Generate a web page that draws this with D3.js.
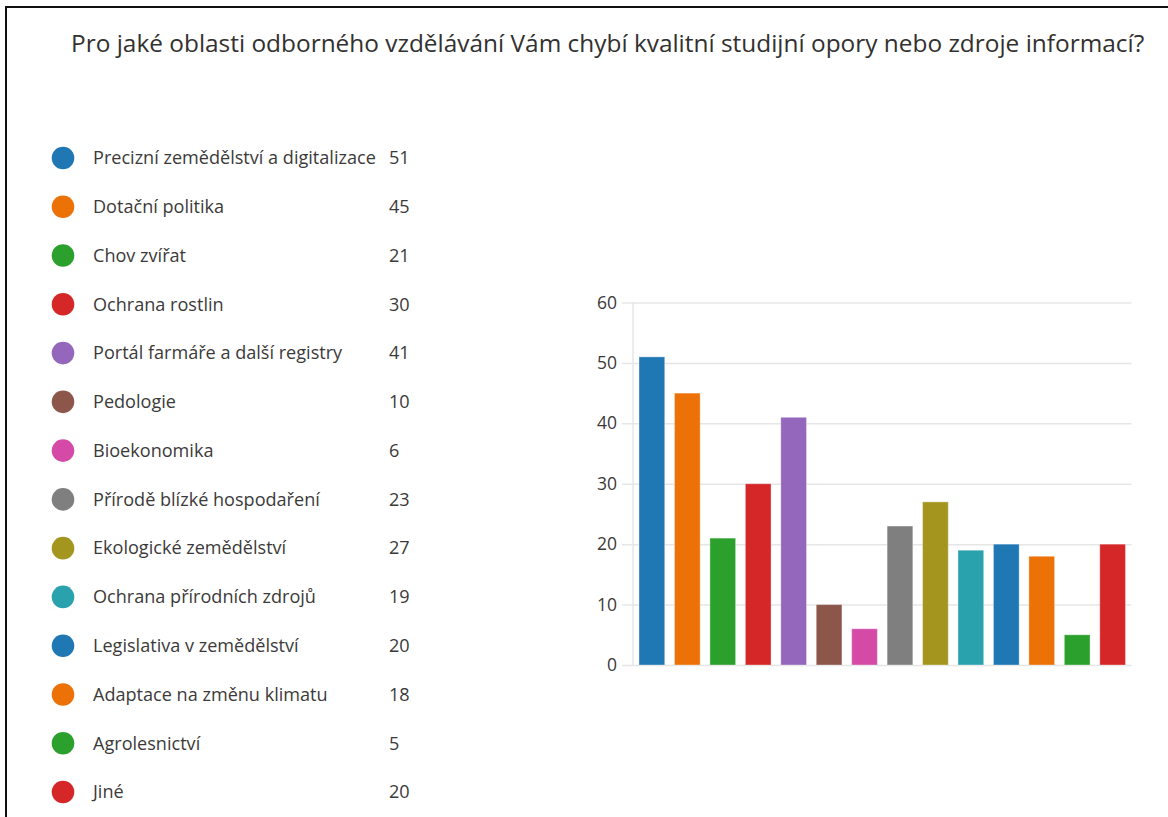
<!DOCTYPE html>
<html>
<head>
<meta charset="utf-8">
<script src="https://cdn.jsdelivr.net/npm/d3@7"></script>
<style>
  html, body { margin: 0; padding: 0; background: #fff; }
  svg { display: block; font-family: "Open Sans", "Noto Sans", sans-serif; }
</style>
</head>
<body>
<svg id="chart" width="1168" height="817"></svg>
<script>
// Survey answers: which areas of professional education lack good study materials
const categories = [
  "Precizní zemědělství a digitalizace",
  "Dotační politika",
  "Chov zvířat",
  "Ochrana rostlin",
  "Portál farmáře a další registry",
  "Pedologie",
  "Bioekonomika",
  "Přírodě blízké hospodaření",
  "Ekologické zemědělství",
  "Ochrana přírodních zdrojů",
  "Legislativa v zemědělství",
  "Adaptace na změnu klimatu",
  "Agrolesnictví",
  "Jiné"
];
const counts = [51, 45, 21, 30, 41, 10, 6, 23, 27, 19, 20, 18, 5, 20];
const palette = [
  "#1f77b4", "#ec7207", "#2ca02c", "#d62728", "#9467bd", "#8c564b",
  "#d54aa7", "#7f7f7f", "#a4951e", "#29a2ad", "#1f77b4", "#ec7207",
  "#2ca02c", "#d62728"
];
const yTicks = [0, 10, 20, 30, 40, 50, 60];
const title = "Pro jaké oblasti odborného vzdělávání Vám chybí kvalitní studijní opory nebo zdroje informací?";

const svg = d3.select("#chart");

// frame lines along the top and left edge
svg.append("line").attr("x1", 6).attr("x2", 1168).attr("y1", 7).attr("y2", 7)
  .attr("stroke", "#111").attr("stroke-width", 2);
svg.append("line").attr("x1", 6).attr("x2", 6).attr("y1", 6).attr("y2", 817)
  .attr("stroke", "#111").attr("stroke-width", 2);

// title, fitted to its line width
const titleText = svg.append("text")
  .attr("x", 71).attr("y", 52)
  .attr("fill", "#323130")
  .attr("font-size", 20)
  .text(title);
const tw = titleText.node().getComputedTextLength();
titleText.attr("font-size", 20 * 1074 / tw);

// legend
const legendY = d3.scalePoint().domain(categories).range([158, 792]);
const legend = svg.append("g").selectAll("g")
  .data(categories)
  .join("g")
  .attr("transform", d => `translate(0,${legendY(d)})`);
legend.append("circle")
  .attr("cx", 63).attr("cy", 0).attr("r", 11.3)
  .attr("fill", (d, i) => palette[i]);
const labels = legend.append("text")
  .attr("x", 93).attr("dy", "0.35em")
  .attr("fill", "#3b3a39")
  .attr("font-size", 16)
  .text(d => d);
// scale label font so the longest label spans its measured width
const longest = d3.max(labels.nodes(), n => n.getComputedTextLength());
labels.attr("font-size", 16 * 283 / longest);
legend.append("text")
  .attr("x", 389).attr("dy", "0.35em")
  .attr("fill", "#3b3a39")
  .attr("font-size", 16 * 283 / longest)
  .text((d, i) => counts[i]);

// bar chart
const x = d3.scaleBand().domain(categories).range([633, 1131.5])
  .paddingInner(0.275).paddingOuter(0.17);
const y = d3.scaleLinear().domain([0, 60]).range([665, 302.5]);

const yAxis = svg.append("g")
  .attr("transform", "translate(622,0)")
  .call(d3.axisLeft(y).tickValues(yTicks).tickSize(-(1131.5 - 622)).tickPadding(5));
yAxis.select(".domain").remove();
yAxis.selectAll(".tick line").attr("stroke", "#e6e6e6").attr("stroke-width", 1.5);
yAxis.selectAll(".tick text")
  .attr("fill", "#3b3a39")
  .attr("font-size", 17.5)
  .attr("font-family", "\"Open Sans\", sans-serif");

// vertical axis line
svg.append("line")
  .attr("x1", 633).attr("x2", 633)
  .attr("y1", y(60)).attr("y2", y(0))
  .attr("stroke", "#e6e6e6").attr("stroke-width", 1.5);

svg.append("g").selectAll("rect")
  .data(counts)
  .join("rect")
  .attr("x", (d, i) => x(categories[i]))
  .attr("width", x.bandwidth())
  .attr("y", d => y(d))
  .attr("height", d => y(0) - y(d))
  .attr("fill", (d, i) => palette[i])
  .attr("stroke", "#ffffff")
  .attr("stroke-opacity", 0.35)
  .attr("stroke-width", 1);
</script>
</body>
</html>
